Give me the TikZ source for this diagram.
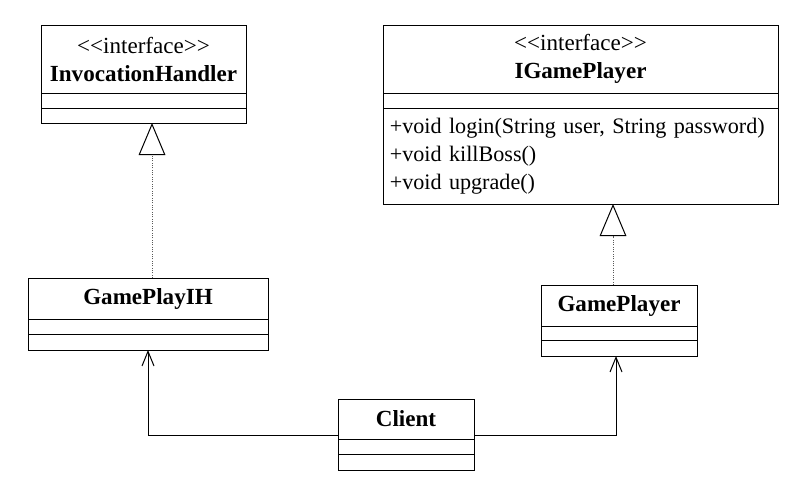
\documentclass[tikz,border=0pt]{standalone}
\usepackage{fontspec}
\setmainfont{Liberation Serif}
\usepackage{tikz}
\usetikzlibrary{positioning,arrows.meta}

\begin{document}
\begin{tikzpicture}[
    x=0.75pt, y=-0.75pt,
    font=\fontsize{17.3}{21}\selectfont,
    line width=0.75pt,
    classhead/.style={draw, rectangle, inner sep=0pt, outer sep=0pt, align=center},
    classpart/.style={draw, rectangle, inner sep=0pt, outer sep=0pt},
    realize/.style={densely dotted, draw=black!65, -{Triangle[open, length=24pt, width=20pt, color=black, line width=0.75pt]}},
    assoc/.style={-{Straight Barb[length=11pt, width=9pt, line width=0.75pt]}}
    ]
    \useasboundingbox (0,0) rectangle (791,501);

    % interfaces
    \node[classhead, minimum width=153.75pt, minimum height=51pt] (ih) at (143.5,59) {<{}<interface>{}>\\\textbf{InvocationHandler}};
    \node[classpart, minimum width=153.75pt, minimum height=11.25pt, below=0pt of ih] (ih-attr) {};
    \node[classpart, minimum width=153.75pt, minimum height=11.25pt, below=0pt of ih-attr] (ih-ops) {};

    \node[classhead, minimum width=296.25pt, minimum height=51pt] (igp) at (580.5,59) {<{}<interface>{}>\\\textbf{IGamePlayer}};
    \node[classpart, minimum width=296.25pt, minimum height=11.25pt, below=0pt of igp] (igp-attr) {};
    \node[classpart, font=\fontsize{16.6}{21}\selectfont, minimum height=72pt, text width=286pt, inner xsep=5.125pt, align=left, below=0pt of igp-attr] (igp-ops) {+void login(String user, String password)\\+void killBoss()\\+void upgrade()};

    % classes
    \node[classhead, minimum width=180pt, minimum height=30.75pt] (gph) at (148,298.5) {\textbf{GamePlayIH}};
    \node[classpart, minimum width=180pt, minimum height=11.25pt, below=0pt of gph] (gph-attr) {};
    \node[classpart, minimum width=180pt, minimum height=12pt, below=0pt of gph-attr] (gph-ops) {};

    \node[classhead, minimum width=117pt, minimum height=30.75pt] (gp) at (619,305.5) {\textbf{GamePlayer}};
    \node[classpart, minimum width=117pt, minimum height=10.5pt, below=0pt of gp] (gp-attr) {};
    \node[classpart, minimum width=117pt, minimum height=12pt, below=0pt of gp-attr] (gp-ops) {};

    \node[classhead, minimum width=102pt, minimum height=30pt] (cl) at (406,419) {\textbf{Client}};
    \node[classpart, minimum width=102pt, minimum height=11.25pt, below=0pt of cl] (cl-attr) {};
    \node[classpart, minimum width=102pt, minimum height=12pt, below=0pt of cl-attr] (cl-ops) {};

    \draw[realize] ([xshift=3pt]gph.north) -- ([xshift=3pt]gph.north |- ih-ops.south);
    \draw[realize] ([xshift=-4.5pt]gp.north) -- ([xshift=-4.5pt]gp.north |- igp-ops.south);
    \draw[assoc] ([yshift=3pt]cl.south west) -| (gph-ops.south);
    \draw[assoc] ([yshift=3pt]cl.south east) -| ([xshift=-2.25pt]gp-ops.south);
\end{tikzpicture}
\end{document}
